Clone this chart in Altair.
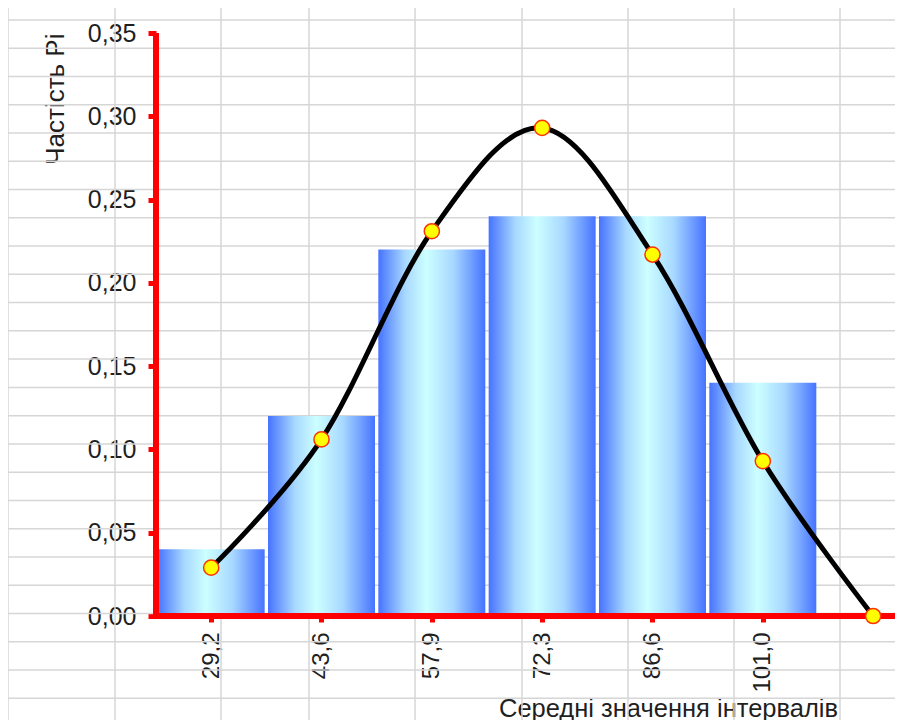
import altair as alt
import pandas as pd

# ---- data ----
x_labels = ["29,2", "43,6", "57,9", "72,3", "86,6", "101,0"]
bar_values = [0.04, 0.12, 0.22, 0.24, 0.24, 0.14]
curve_values = [0.029, 0.106, 0.231, 0.293, 0.217, 0.093, 0.0]

bars_df = pd.DataFrame({"idx": list(range(1, 7)), "label": x_labels, "p": bar_values})
curve_df = pd.DataFrame({"idx": list(range(1, 8)), "p": curve_values})

# ---- layout / style ----
W, H = 739, 583
PAD = {"left": 148, "top": 25, "right": 0, "bottom": 104}
SLOT_PX = 110.33
X_MAX = 0.5 + W / SLOT_PX
FONT = "Liberation Sans"
TXT = "#1f1f1f"

# spreadsheet background (decoration): column edges and row pitch in page pixels
SHEET_COL_EDGES = [0, 107, 213, 301, 407, 514, 620, 726, 832]
SHEET_ROW_START, SHEET_ROW_PX, SHEET_ROWS = 12, 28.26, 26
sheet_cols = pd.DataFrame({"gx": SHEET_COL_EDGES})
sheet_rows = pd.DataFrame({"gy": [SHEET_ROW_START + SHEET_ROW_PX * k for k in range(SHEET_ROWS)]})
TOTAL_W = W + PAD["left"] + PAD["right"]
TOTAL_H = H + PAD["top"] + PAD["bottom"]
gx_scale = alt.Scale(domain=[0, TOTAL_W], range=[-PAD["left"], W + PAD["right"]], nice=False, zero=False, padding=0)
gy_scale = alt.Scale(domain=[0, TOTAL_H], range=[-PAD["top"], H + PAD["bottom"]], nice=False, zero=False, padding=0)
GRID_COLOR = "#d6d6d6"

vlines = alt.Chart(sheet_cols).mark_rule(color=GRID_COLOR, strokeWidth=1.5).encode(
    x=alt.X("gx:Q", scale=gx_scale, axis=None),
    y=alt.YDatum(0, scale=gy_scale, axis=None),
    y2=alt.Y2Datum(TOTAL_H),
)
hlines = alt.Chart(sheet_rows).mark_rule(color=GRID_COLOR, strokeWidth=1.5).encode(
    y=alt.Y("gy:Q", scale=gy_scale, axis=None),
    x=alt.XDatum(0, scale=gx_scale, axis=None),
    x2=alt.X2Datum(TOTAL_W),
)
sheet = alt.layer(vlines, hlines)

# ---- main chart ----
xs = alt.Scale(domain=[0.5, X_MAX], nice=False, zero=False, padding=0)
ys = alt.Scale(domain=[0, 0.35], nice=False, zero=False, padding=0)

label_expr = "[" + ",".join("'" + l + "'" for l in x_labels) + "][datum.value - 1]"

x_axis = alt.Axis(
    orient="bottom", values=list(range(1, 7)), labelExpr=label_expr,
    labelAngle=270, labelFont=FONT, labelFontSize=24, labelColor=TXT,
    labelPadding=10, labelFlush=False, labelOverlap=False,
    domain=False, ticks=True, tickColor="red", tickSize=6, tickWidth=5, grid=False,
    title="Середні значення інтервалів", titleFont=FONT, titleFontSize=25.5,
    titleFontWeight="normal", titleColor=TXT, titleX=512, titleY=80,
    titleAlign="center", titleBaseline="top",
)
y_axis = alt.Axis(
    orient="left", values=[0.0, 0.05, 0.1, 0.15, 0.2, 0.25, 0.3, 0.35],
    labelExpr="replace(format(datum.value, '.2f'), '.', ',')",
    labelFont=FONT, labelFontSize=25, labelColor=TXT, labelPadding=12,
    labelFlush=False, labelOverlap=False,
    domain=False, tickColor="red", tickSize=8, tickWidth=5, grid=False,
    title="Частість Pi", titleFont=FONT, titleFontSize=26, titleFontWeight="normal",
    titleColor=TXT, titleX=-101, titleY=0, titleAngle=270,
    titleAlign="right", titleBaseline="middle",
)

grad = alt.Gradient(
    gradient="linear", x1=0, x2=1, y1=0, y2=0,
    stops=[
        alt.GradientStop(color="#4673ff", offset=0),
        alt.GradientStop(color="#a8d8ff", offset=0.25),
        alt.GradientStop(color="#ccffff", offset=0.45),
        alt.GradientStop(color="#a8d8ff", offset=0.7),
        alt.GradientStop(color="#4673ff", offset=1),
    ],
)

bars = alt.Chart(bars_df).mark_bar(size=107, fill=grad, stroke=None, opacity=1).encode(
    x=alt.X("idx:Q", scale=xs, axis=x_axis),
    y=alt.Y("p:Q", scale=ys, axis=y_axis),
)
zero_line = alt.Chart(bars_df).mark_rule(color="red", strokeWidth=6).encode(y=alt.datum(0))
y_line = alt.Chart(bars_df).mark_rule(color="red", strokeWidth=6).encode(x=alt.datum(0.5))
curve = alt.Chart(curve_df).mark_line(color="black", strokeWidth=5, interpolate="cardinal").encode(
    x="idx:Q", y="p:Q"
)
points = alt.Chart(curve_df).mark_circle(
    size=230, color="#ffff00", stroke="#ff3300", strokeWidth=1.5, opacity=1
).encode(x="idx:Q", y="p:Q")

main = alt.layer(bars, zero_line, y_line, curve, points)

chart = alt.layer(sheet, main).resolve_scale(x="independent", y="independent").properties(
    width=W, height=H,
    autosize=alt.AutoSizeParams(type="none"),
    padding=PAD,
    background="white",
).configure_view(stroke=None)

chart.save("out.html", embed_options={"renderer": "svg", "actions": False})
